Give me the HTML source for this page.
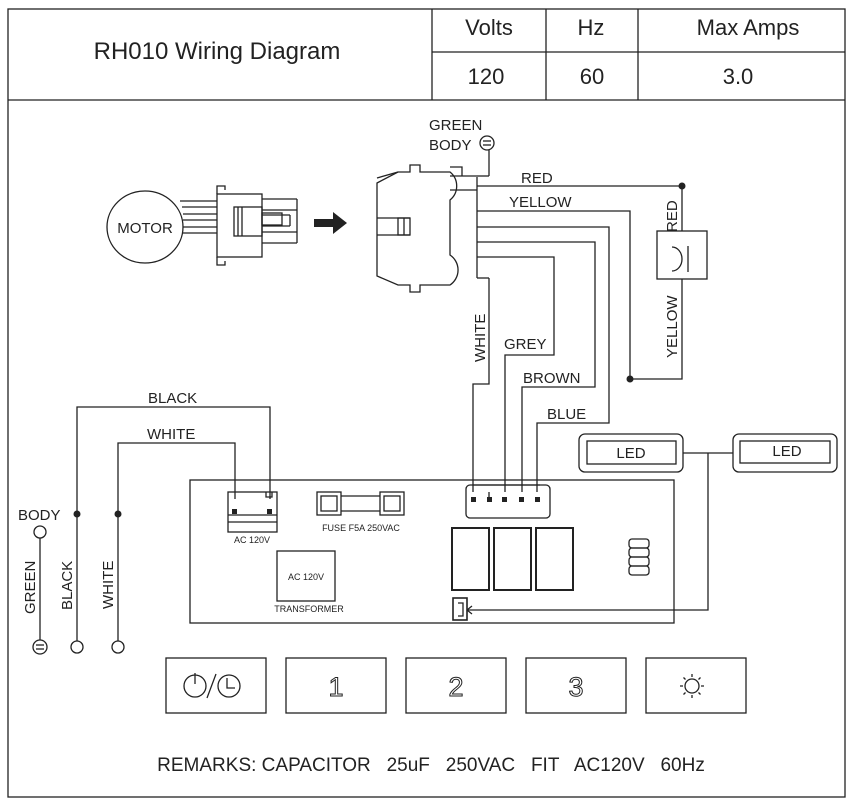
<!DOCTYPE html>
<html><head><meta charset="utf-8"><style>
html,body{margin:0;padding:0;background:#fff}
svg{display:block;font-family:"Liberation Sans",Arial,sans-serif}
</style></head><body>
<svg width="854" height="802" viewBox="0 0 854 802" xmlns="http://www.w3.org/2000/svg">
<g fill="none" stroke="#222" stroke-width="1.3">
<rect x="8" y="9" width="837" height="788"/>
<line x1="8" y1="100" x2="845" y2="100"/>
<line x1="432" y1="9" x2="432" y2="100"/>
<line x1="546" y1="9" x2="546" y2="100"/>
<line x1="638" y1="9" x2="638" y2="100"/>
<line x1="432" y1="52" x2="845" y2="52"/>

<ellipse cx="145" cy="227" rx="38" ry="36"/>
<line x1="180" y1="201" x2="217" y2="201"/><line x1="182" y1="207" x2="217" y2="207"/>
<line x1="183" y1="214" x2="217" y2="214"/><line x1="183" y1="220" x2="217" y2="220"/>
<line x1="183" y1="227" x2="217" y2="227"/><line x1="183" y1="233" x2="217" y2="233"/>
<rect x="217" y="194" width="45" height="63"/>
<path d="M217,194 V186 H225 V190 M217,257 V265 H225 V261"/>
<rect x="234" y="207" width="28" height="29"/>
<line x1="238" y1="207" x2="238" y2="236"/><line x1="242" y1="207" x2="242" y2="236"/>
<rect x="262" y="213" width="20" height="12"/>
<line x1="262" y1="199" x2="297" y2="199"/><line x1="297" y1="199" x2="297" y2="243"/>
<line x1="262" y1="210" x2="297" y2="210"/><line x1="262" y1="232" x2="297" y2="232"/>
<line x1="262" y1="243" x2="297" y2="243"/><line x1="262" y1="215" x2="290" y2="215"/>
<line x1="262" y1="226" x2="290" y2="226"/><line x1="290" y1="215" x2="290" y2="226"/>

<path d="M377,183 L398,172 L410,172 V165 H420 V172 H450 A18,18 0 0 1 450,200 V255 A18,18 0 0 1 450,285 H420 V292 H410 V285 H398 L377,276 Z"/>
<line x1="377" y1="178" x2="398" y2="172"/>
<line x1="377" y1="218" x2="410" y2="218"/><line x1="377" y1="235" x2="410" y2="235"/>
<rect x="398" y="218" width="12" height="17"/><line x1="404" y1="218" x2="404" y2="235"/>
<path d="M450,176 H477 M450,190 H477 M477,177 V278 M450,167 H462 V176"/>
<line x1="477" y1="278" x2="489" y2="278"/>
<line x1="477" y1="176" x2="489" y2="176"/>
<line x1="489" y1="150" x2="489" y2="176"/>
<circle cx="487" cy="143" r="7"/>
<line x1="483" y1="141" x2="491" y2="141"/><line x1="483" y1="145" x2="491" y2="145"/>

<path d="M477,186 H682 V231"/>
<rect x="657" y="231" width="50" height="48"/>
<path d="M672,247 A10,12 0 0 1 672,271" /><line x1="688" y1="246" x2="688" y2="272"/>
<path d="M682,279 V379 H630 V211 H477"/>
<path d="M477,227 H609 V423 H537 V492"/>
<path d="M477,242 H595 V387 H522 V492"/>
<path d="M477,257 H554 V355 H505 V492"/>
<path d="M489,278 V384 H473 V492"/>
<path d="M489,492 V500"/>

<rect x="579" y="434" width="104" height="38" rx="6"/>
<rect x="587" y="441" width="89" height="23"/>
<rect x="733" y="434" width="104" height="38" rx="6"/>
<rect x="740" y="441" width="90" height="22"/>
<path d="M683,453 H733 M708,453 V610 H467"/>
<path d="M467,610 L472,606 M467,610 L472,614"/>

<rect x="190" y="480" width="484" height="143"/>
<rect x="228" y="492" width="49" height="40"/>
<line x1="228" y1="515" x2="277" y2="515"/><line x1="228" y1="522" x2="277" y2="522"/>
<path d="M266,492 V497 H272 V492"/>
<rect x="317" y="492" width="24" height="23"/><rect x="380" y="492" width="24" height="23"/>
<rect x="321" y="496" width="16" height="15"/><rect x="384" y="496" width="16" height="15"/>
<line x1="341" y1="496" x2="380" y2="496"/><line x1="341" y1="511" x2="380" y2="511"/>
<rect x="277" y="551" width="58" height="50"/>
<rect x="466" y="485" width="84" height="33" rx="4"/>
<line x1="473" y1="485" x2="540" y2="485"/>
<rect x="452" y="528" width="37" height="62" stroke-width="2"/>
<rect x="494" y="528" width="37" height="62" stroke-width="2"/>
<rect x="536" y="528" width="37" height="62" stroke-width="2"/>
<rect x="453" y="598" width="14" height="22" stroke-width="1.6"/>
<path d="M458,603 H463 V616 H458"/>
<rect x="629" y="539" width="20" height="9" rx="3"/><rect x="629" y="548" width="20" height="9" rx="3"/>
<rect x="629" y="557" width="20" height="9" rx="3"/><rect x="629" y="566" width="20" height="9" rx="3"/>

<path d="M77,647 V407 H270 V499"/>
<path d="M118,647 V443 H235 V499"/>
<line x1="40" y1="538" x2="40" y2="640"/>
<circle cx="40" cy="532" r="6"/>
<circle cx="40" cy="647" r="7"/>
<line x1="36" y1="645" x2="44" y2="645"/><line x1="36" y1="649" x2="44" y2="649"/>
<circle cx="77" cy="647" r="6" fill="#fff"/>
<circle cx="118" cy="647" r="6" fill="#fff"/>

<rect x="166" y="658" width="100" height="55"/>
<rect x="286" y="658" width="100" height="55"/>
<rect x="406" y="658" width="100" height="55"/>
<rect x="526" y="658" width="100" height="55"/>
<rect x="646" y="658" width="100" height="55"/>
<circle cx="195" cy="686" r="11"/><line x1="195" y1="673" x2="195" y2="684"/>
<line x1="207" y1="698" x2="216" y2="674"/>
<circle cx="229" cy="686" r="11"/><path d="M227,678 V688 H235"/>
<circle cx="692" cy="686" r="7"/>
<path d="M692,674 V677 M692,695 V698 M680,686 H683 M701,686 H704 M683.5,677.5 L685.5,679.5 M700.5,677.5 L698.5,679.5 M683.5,694.5 L685.5,692.5 M700.5,694.5 L698.5,692.5"/>
</g>
<g fill="#222">
<path d="M314,219 H333 V212 L347,223 L333,234 V227 H314 Z"/>
<circle cx="682" cy="186" r="3.5"/><circle cx="630" cy="379" r="3.5"/>
<circle cx="77" cy="514" r="3.5"/><circle cx="118" cy="514" r="3.5"/>
<rect x="232" y="509" width="5" height="5"/><rect x="267" y="509" width="5" height="5"/>
<rect x="471" y="497" width="5" height="5"/><rect x="487" y="497" width="5" height="5"/>
<rect x="502" y="497" width="5" height="5"/><rect x="519" y="497" width="5" height="5"/>
<rect x="535" y="497" width="5" height="5"/>
</g>
<g fill="#222" font-size="22">
<text x="217" y="59" text-anchor="middle" font-size="24">RH010 Wiring Diagram</text>
<text x="489" y="35" text-anchor="middle">Volts</text>
<text x="591" y="35" text-anchor="middle">Hz</text>
<text x="748" y="35" text-anchor="middle">Max Amps</text>
<text x="486" y="84" text-anchor="middle">120</text>
<text x="592" y="84" text-anchor="middle">60</text>
<text x="738" y="84" text-anchor="middle">3.0</text>
</g>
<g fill="#222" font-size="15">
<text x="145" y="233" text-anchor="middle">MOTOR</text>
<text x="429" y="130">GREEN</text>
<text x="429" y="150">BODY</text>
<text x="521" y="183">RED</text>
<text x="509" y="207">YELLOW</text>
<text x="504" y="349">GREY</text>
<text x="523" y="383">BROWN</text>
<text x="547" y="419">BLUE</text>
<text x="148" y="403">BLACK</text>
<text x="147" y="439">WHITE</text>
<text x="18" y="520">BODY</text>
<text x="631" y="458" text-anchor="middle">LED</text>
<text x="787" y="456" text-anchor="middle">LED</text>
<text transform="translate(485,362) rotate(-90)">WHITE</text>
<text transform="translate(677,232) rotate(-90)">RED</text>
<text transform="translate(677,358) rotate(-90)">YELLOW</text>
<text transform="translate(35,614) rotate(-90)">GREEN</text>
<text transform="translate(72,610) rotate(-90)">BLACK</text>
<text transform="translate(113,609) rotate(-90)">WHITE</text>
</g>
<g fill="#222" font-size="9">
<text x="252" y="543" text-anchor="middle">AC 120V</text>
<text x="361" y="531" text-anchor="middle">FUSE F5A 250VAC</text>
<text x="306" y="580" text-anchor="middle">AC 120V</text>
<text x="309" y="612" text-anchor="middle">TRANSFORMER</text>
</g>
<g fill="#fff" stroke="#222" stroke-width="1" font-size="27" text-anchor="middle">
<text x="336" y="696">1</text>
<text x="456" y="696">2</text>
<text x="576" y="696">3</text>
</g>
<text x="431" y="771" text-anchor="middle" font-size="19" fill="#222" xml:space="preserve">REMARKS: CAPACITOR   25uF   250VAC   FIT   AC120V   60Hz</text>
</svg>
</body></html>
